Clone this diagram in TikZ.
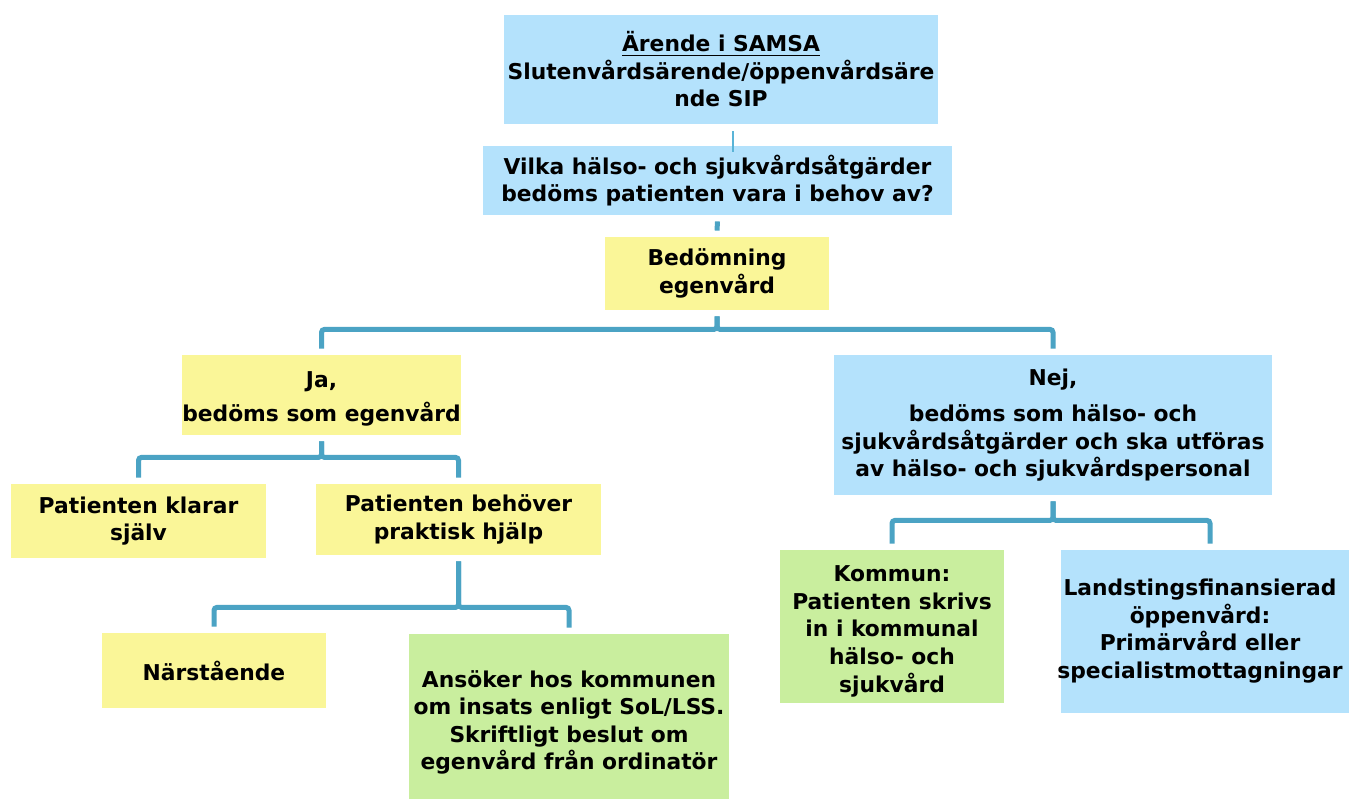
\documentclass[tikz,border=0pt]{standalone}
\usepackage{fontspec}
\setmainfont{DejaVu Sans}
\usetikzlibrary{calc}
\definecolor{bxblue}{RGB}{180,226,252}
\definecolor{bxyellow}{RGB}{250,246,152}
\definecolor{bxgreen}{RGB}{201,238,158}
\definecolor{lnblue}{RGB}{75,163,196}
\definecolor{lnthin}{RGB}{90,180,215}
\newcommand{\myconn}[3]{\draw[conn] ($(#1.south)+(0,6)$) -- ($(#1.south)+(0,#3)$) -| ($(#2.north)+(0,-6)$);}
\begin{document}
\begin{tikzpicture}[x=0.5pt,y=-0.5pt,
  box/.style={rectangle, inner sep=0pt, align=center, text=black,
    font=\bfseries\fontsize{10.9}{13.75}\selectfont},
  conn/.style={draw=lnblue, line width=2.5pt, rounded corners=1.5pt},
  thinconn/.style={draw=lnthin, line width=0.9pt}]
\useasboundingbox (0,0) rectangle (1349,798);
\clip (0,0) rectangle (1349,798);
\fill[white] (0,0) rectangle (1349,798);
% boxes
\node[box, fill=bxblue, minimum width=217pt, minimum height=54.5pt] (top) at (721,69.5)
  {\underline{Ärende i SAMSA}\\Slutenvårdsärende/öppenvårdsäre\\nde SIP};
\node[box, fill=bxblue, minimum width=234.5pt, minimum height=34.5pt] (q) at (717.5,180.5)
  {Vilka hälso- och sjukvårdsåtgärder\\bedöms patienten vara i behov av?};
\node[box, fill=bxyellow, minimum width=112pt, minimum height=36.5pt] (bed) at (717,273.5)
  {Bedömning\\egenvård};
\node[box, fill=bxyellow, minimum width=138.5pt, minimum height=40pt] (ja) at (321.5,395)
  {\raisebox{-2pt}[\height][\depth]{\begin{tabular}{@{}c@{}}Ja,\\[3pt]bedöms som egenvård\end{tabular}}};
\node[box, fill=bxblue, minimum width=219pt, minimum height=70pt] (nej) at (1053,425)
  {Nej,\\[4.5pt]bedöms som hälso- och\\sjukvårdsåtgärder och ska utföras\\av hälso- och sjukvårdspersonal};
\node[box, fill=bxyellow, minimum width=127.5pt, minimum height=37pt] (klarar) at (138.5,521)
  {Patienten klarar\\själv};
\node[box, fill=bxyellow, minimum width=142.5pt, minimum height=35.5pt] (behov) at (458.5,519.5)
  {Patienten behöver\\praktisk hjälp};
\node[box, fill=bxyellow, minimum width=112pt, minimum height=37.5pt] (narst) at (214,670.5)
  {Närstående};
\node[box, fill=bxgreen, minimum width=160pt, minimum height=83pt] (ansok) at (569,717)
  {\raisebox{-3pt}[\height][\depth]{\begin{tabular}{@{}c@{}}Ansöker hos kommunen\\om insats enligt SoL/LSS.\\Skriftligt beslut om\\egenvård från ordinatör\end{tabular}}};
\node[box, fill=bxgreen, minimum width=112pt, minimum height=76.5pt] (kommun) at (892,626.5)
  {\raisebox{-2.5pt}[\height][\depth]{\begin{tabular}{@{}c@{}}Kommun:\\Patienten skrivs\\in i kommunal\\hälso- och\\sjukvård\end{tabular}}};
\node[box, fill=bxblue, minimum width=149pt, minimum height=81.5pt] (land) at (1210,631.5)
  {\hspace*{-10pt}\begin{tabular}{@{}c@{}}Landstingsfinansierad\\öppenvård:\\Primärvård eller\\specialistmottagningar\end{tabular}};
% connectors
\draw[thinconn] ($(top.south)+(12,7)$) -- ($(q.north)+(15.5,6)$);
\draw[conn] ($(q.south)+(0,6)$) -- ($(bed.north)+(0,-6)$);
\myconn{bed}{ja}{19}
\myconn{bed}{nej}{19}
\myconn{ja}{klarar}{22}
\myconn{ja}{behov}{22}
\myconn{behov}{narst}{52}
\myconn{behov}{ansok}{52}
\myconn{nej}{kommun}{25}
\myconn{nej}{land}{25}
\end{tikzpicture}
\end{document}
